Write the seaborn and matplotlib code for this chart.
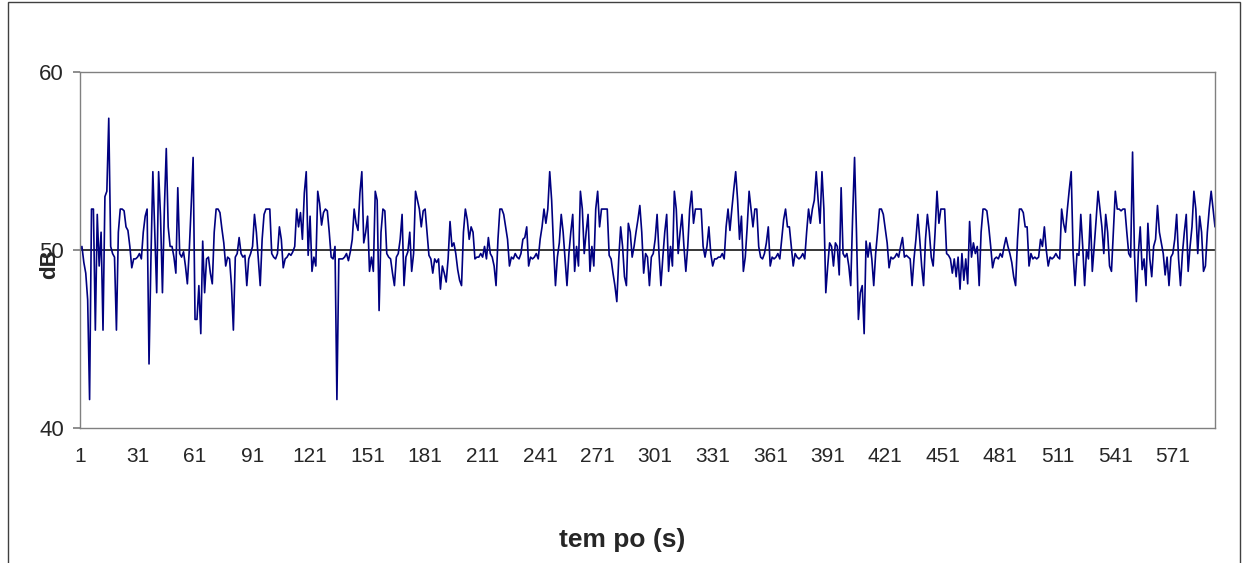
import numpy as np
import pandas as pd
import matplotlib
matplotlib.use("Agg")
import matplotlib.pyplot as plt
import seaborn as sns
from matplotlib.patches import Rectangle

# Sound level readings (dB), one per second
db_001_048 = [50.0, 50.2, 49.3, 48.7, 47.2, 41.6, 52.3, 52.3, 45.5, 52.0,
              49.1, 51.0, 45.5, 53.0, 53.3, 57.4, 50.2, 49.8, 49.6, 45.5,
              51.0, 52.3, 52.3, 52.2, 51.3, 51.1, 50.2, 49.0, 49.5, 49.5,
              49.6, 49.8, 49.5, 51.0, 51.9, 52.3, 43.6, 49.5, 54.4, 51.0,
              47.6, 54.4, 51.9, 47.6, 52.3, 55.7, 51.3, 50.2]
db_049_097 = [50.2, 49.6, 48.7, 53.5, 49.8, 49.6, 49.9, 49.1, 48.1, 50.0,
              52.5, 55.2, 46.1, 46.1, 48.0, 45.3, 50.5, 47.6, 49.5, 49.6,
              48.7, 48.1, 51.0, 52.3, 52.3, 52.1, 51.2, 50.4, 49.1, 49.6,
              49.5, 48.0, 45.5, 49.6, 49.8, 50.7, 49.8, 49.6, 49.7, 48.0,
              49.5, 49.8, 50.2, 52.0, 51.0, 49.5, 48.0, 50.6, 52.0]
db_098_148 = [52.3, 52.3, 52.3, 49.8, 49.6, 49.5, 49.8, 51.3, 50.6, 49.0,
              49.5, 49.6, 49.8, 49.7, 49.9, 50.2, 52.3, 51.3, 52.1, 50.6,
              53.2, 54.4, 49.7, 51.9, 48.8, 49.6, 49.1, 53.3, 52.6, 51.4,
              52.1, 52.3, 52.2, 51.0, 49.6, 49.5, 50.2, 41.6, 49.5, 49.5,
              49.5, 49.6, 49.8, 49.4, 49.9, 50.6, 52.3, 51.5, 51.1, 53.2,
              54.4]
db_149_197 = [50.4, 51.0, 51.9, 48.8, 49.6, 48.8, 53.3, 52.8, 46.6, 51.0,
              52.3, 52.2, 49.8, 49.6, 49.5, 48.7, 48.0, 49.6, 49.8, 50.6,
              52.0, 48.0, 49.6, 49.9, 51.0, 48.8, 49.8, 53.3, 52.8, 52.3,
              51.3, 52.2, 52.3, 51.0, 49.7, 49.5, 48.7, 49.5, 49.3, 49.5,
              47.8, 49.1, 48.7, 48.2, 49.5, 51.6, 50.2, 50.4, 49.8]
db_198_246 = [48.9, 48.3, 48.0, 51.0, 52.3, 51.7, 50.6, 51.3, 51.0, 49.5,
              49.6, 49.6, 49.8, 49.6, 50.2, 49.5, 50.7, 49.8, 49.6, 49.1,
              48.0, 50.6, 52.3, 52.3, 52.0, 51.3, 50.6, 49.1, 49.6, 49.5,
              49.8, 49.6, 49.5, 49.8, 50.6, 50.7, 51.3, 49.1, 49.6, 49.5,
              49.6, 49.8, 49.5, 50.6, 51.3, 52.3, 51.5, 52.3, 54.4]
db_247_296 = [52.8, 50.2, 48.0, 49.6, 50.4, 52.0, 51.0, 49.5, 48.0, 49.8,
              51.0, 52.0, 48.8, 50.2, 49.1, 53.3, 52.3, 49.8, 51.0, 52.0,
              48.8, 50.2, 49.1, 52.3, 53.3, 51.3, 52.3, 52.3, 52.3, 52.3,
              49.7, 49.5, 48.7, 48.0, 47.1, 49.5, 51.3, 50.2, 48.5, 48.0,
              51.5, 51.0, 49.6, 50.2, 51.0, 51.7, 52.5, 51.0, 48.7, 49.8]
db_297_345 = [49.6, 48.0, 49.6, 49.8, 50.6, 52.0, 49.8, 48.0, 49.6, 51.0,
              52.0, 48.8, 50.2, 49.1, 53.3, 52.3, 49.8, 51.0, 52.0, 50.2,
              48.8, 50.2, 52.3, 53.3, 51.5, 52.3, 52.3, 52.3, 52.3, 50.2,
              49.6, 50.2, 51.3, 49.8, 49.1, 49.5, 49.5, 49.6, 49.6, 49.8,
              49.5, 51.3, 52.3, 51.1, 52.3, 53.4, 54.4, 52.8, 50.6]
db_346_395 = [51.9, 48.8, 49.6, 51.3, 53.3, 52.3, 51.3, 52.3, 52.3, 50.2,
              49.6, 49.5, 49.8, 50.4, 51.3, 49.1, 49.6, 49.5, 49.6, 49.8,
              49.5, 50.6, 51.7, 52.3, 51.3, 51.3, 50.2, 49.1, 49.8, 49.6,
              49.5, 49.6, 49.8, 49.5, 51.0, 52.3, 51.5, 52.3, 52.8, 54.4,
              52.8, 51.5, 54.4, 52.3, 47.6, 49.1, 50.4, 50.2, 49.1, 50.4]
db_396_444 = [50.2, 48.6, 53.5, 49.8, 49.6, 49.8, 49.1, 48.0, 51.9, 55.2,
              51.0, 46.1, 47.6, 48.0, 45.3, 50.5, 49.6, 50.4, 49.5, 48.0,
              49.8, 51.0, 52.3, 52.3, 52.0, 51.2, 50.4, 49.0, 49.6, 49.5,
              49.6, 49.8, 49.6, 50.2, 50.7, 49.6, 49.7, 49.6, 49.5, 48.0,
              49.5, 50.6, 52.0, 50.6, 49.1, 48.0, 50.6, 52.0, 51.0]
db_445_494 = [49.6, 49.1, 51.0, 53.3, 51.5, 52.3, 52.3, 52.3, 49.8, 49.7,
              49.5, 48.7, 49.5, 48.5, 49.6, 47.8, 49.8, 48.3, 49.5, 48.1,
              51.6, 49.6, 50.4, 49.8, 50.2, 48.0, 51.0, 52.3, 52.3, 52.2,
              51.3, 50.2, 49.0, 49.5, 49.6, 49.5, 49.8, 49.6, 50.2, 50.7,
              50.2, 49.8, 49.3, 48.5, 48.0, 50.6, 52.3, 52.3, 52.1, 51.3]
db_495_544 = [51.3, 49.1, 49.8, 49.5, 49.6, 49.5, 49.6, 50.6, 50.2, 51.3,
              50.0, 49.1, 49.6, 49.5, 49.6, 49.8, 49.6, 49.5, 52.3, 51.5,
              51.0, 52.3, 53.4, 54.4, 49.8, 48.0, 49.8, 49.7, 52.0, 50.2,
              48.0, 50.0, 49.5, 52.0, 48.8, 50.2, 51.7, 53.3, 52.3, 51.3,
              49.8, 52.0, 51.0, 49.1, 48.8, 51.0, 53.3, 52.3, 52.3, 52.2]
db_545_593 = [52.3, 52.3, 51.0, 49.8, 49.6, 55.5, 49.8, 47.1, 49.8, 51.3,
              48.9, 49.5, 48.0, 51.5, 49.5, 48.5, 50.2, 50.6, 52.5, 51.0,
              50.4, 49.8, 48.6, 49.6, 48.0, 49.6, 49.8, 50.6, 52.0, 49.5,
              48.0, 49.8, 51.0, 52.0, 48.8, 50.2, 51.3, 53.3, 52.3, 49.8,
              51.9, 51.0, 48.8, 49.1, 51.0, 52.3, 53.3, 52.3, 51.3]

levels = (db_001_048 + db_049_097 + db_098_148 + db_149_197 + db_198_246
          + db_247_296 + db_297_345 + db_346_395 + db_396_444 + db_445_494
          + db_495_544 + db_545_593)
seconds = np.arange(1, len(levels) + 1)
x_ticks = list(range(1, 572, 30))
y_ticks = [40, 50, 60]

df = pd.DataFrame({"tempo": seconds, "dB": levels})

sns.set_theme(style="white")
plt.rcParams["font.family"] = ["Liberation Sans", "DejaVu Sans"]

fig = plt.figure(figsize=(12.46, 5.63), dpi=100)
ax = fig.add_axes([80 / 1246, 1 - 428 / 563, (1215 - 80) / 1246, (428 - 72) / 563])

sns.lineplot(data=df, x="tempo", y="dB", ax=ax, color="#000080",
             linewidth=1.2, estimator=None)
ax.axhline(50, color="black", linewidth=1.1, zorder=1)

ax.set_xlim(1, len(levels))
ax.set_ylim(40, 60)
ax.set_xticks(x_ticks)
ax.set_xticklabels([str(t) for t in x_ticks], fontsize=15)
ax.set_yticks(y_ticks)
ax.set_yticklabels([str(t) for t in y_ticks], fontsize=16)
ax.tick_params(axis="x", length=0, pad=14)
ax.tick_params(axis="y", length=5, direction="out", color="#808080", pad=6.5, left=True)

for side in ax.spines.values():
    side.set_color("#808080")
    side.set_linewidth(1.0)

ax.set_xlabel("tem po (s)", fontsize=19, fontweight="bold")
ax.xaxis.set_label_coords((622 - 80) / 1135, (428 - 528) / 356)
ax.set_ylabel("dB", fontsize=16, fontweight="bold")
ax.yaxis.set_label_coords((60 - 80) / 1135, (428 - 264) / 356)

# outer chart border
fig.patches.append(Rectangle((8 / 1246, -0.01), 1 - 14 / 1246, 1 - 2 / 563 + 0.01,
                             transform=fig.transFigure, fill=False,
                             edgecolor="#404040", linewidth=1.0))

fig.savefig("out.png", dpi=100)
